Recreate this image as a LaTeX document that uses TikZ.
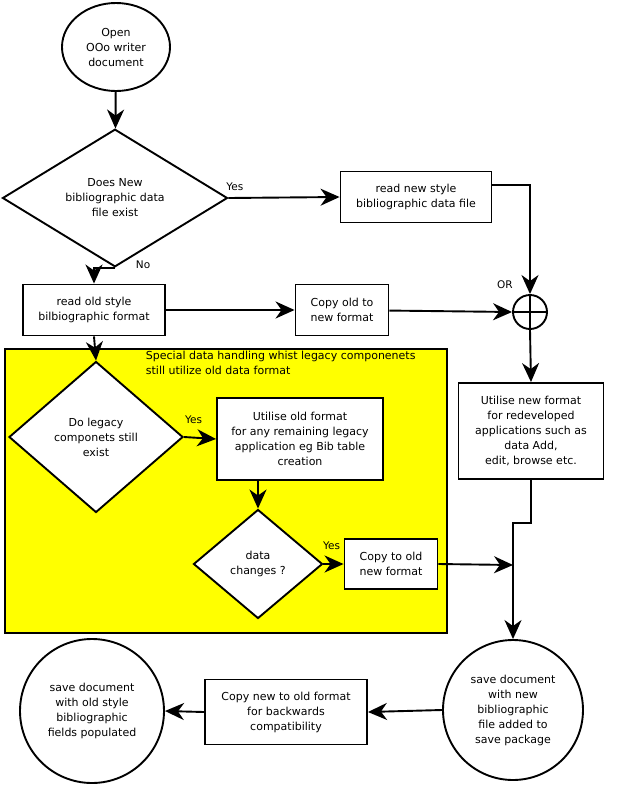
\documentclass[tikz,border=0pt]{standalone}
\usepackage{fontspec}
\setmainfont{DejaVu Sans}
\usetikzlibrary{arrows.meta,positioning,shapes.geometric,calc}
\definecolor{areayellow}{RGB}{255,255,0}

\begin{document}
\begin{tikzpicture}[x=1pt, y=-1pt, line width=1.9pt,
    >={Stealth[length=19pt,width=17pt,inset=6pt]},
    every node/.style={font=\fontsize{11}{15}\selectfont},
    procbox/.style={rectangle, draw, fill=white, align=center, inner sep=0pt},
    decision/.style={diamond, draw, fill=white, align=center, inner sep=0pt},
    endpoint/.style={circle, draw, fill=white, align=center, inner sep=0pt},
    lbl/.style={font=\fontsize{10.5}{12}\selectfont, inner sep=0pt}
  ]
    \useasboundingbox (0,0) rectangle (639,785);

    % legacy area
    \fill[areayellow] (5,349) rectangle (447,633);
    \draw (5,349) rectangle (447,633);
    \node[anchor=north west, align=left, inner sep=0pt] (legacy) at (145,350)
      {Special data handling whist legacy componenets\\ still utilize old data format};

    % top part
    \node[ellipse, draw, fill=white, align=center, inner sep=0pt, minimum width=108, minimum height=88] (open) at (116,47)
      {Open\\OOo writer\\document};
    \node[decision, minimum width=225, minimum height=130] (newexist) at (115,198)
      {Does New\\bibliographic data\\file exist};
    \node[procbox, minimum width=151, minimum height=51] (newread) at (416,197)
      {read new style\\bibliographic data file};
    \node[procbox, minimum width=142, minimum height=51] (oldread) at (94,310)
      {read old style\\bilbiographic format};
    \node[procbox, minimum width=93, minimum height=51] (copyold) at (342,310)
      {Copy old to\\new format};
    \node[endpoint, minimum size=34] (orsum) at (530,312) {};
    \draw (orsum.north) -- (orsum.south) (orsum.west) -- (orsum.east);
    \node[lbl] (orlbl) at (505,285) {OR};

    % right column
    \node[procbox, minimum width=145, minimum height=96] (newuse) at (531,431)
      {Utilise new format\\for redeveloped\\applications such as\\data Add,\\edit, browse etc.};
    \node[endpoint, minimum size=140] (savenew) at (513,710)
      {save document\\with new\\bibliographic\\file added to\\save package};
    \coordinate (join) at (513,565);

    % inside legacy area
    \node[decision, minimum width=174, minimum height=151] (legexist) at (96,437)
      {Do legacy\\componets still\\exist};
    \node[procbox, minimum width=166, minimum height=82] (oldapp) at (300,439)
      {Utilise old format\\for any remaining legacy\\application eg Bib table\\creation};
    \node[decision, minimum width=129, minimum height=109] (changes) at (258,564)
      {data\\changes ?};
    \node[procbox, minimum width=93, minimum height=50] (copytoold) at (391,564)
      {Copy to old\\new format};

    % bottom row
    \node[procbox, minimum width=162, minimum height=65] (copynew) at (286,712)
      {Copy new to old format\\for backwards\\compatibility};
    \node[endpoint, minimum size=144] (saveold) at (92,711)
      {save document\\with old style\\bibliographic\\fields populated};

    % connectors
    \draw[->] (open) -- (newexist);
    \draw[->] (newexist.east) -- node[lbl, pos=0, anchor=south west, xshift=-3pt, yshift=6pt] {Yes} (newread.west);
    \draw[->] (newexist.south) -| node[lbl, pos=0.0, right=20pt, yshift=3pt] {No} (oldread.north);
    \draw[->] ([yshift=12]newread.east) -| (orsum.north);
    \draw[->] (oldread) -- (copyold);
    \draw[->] (copyold) -- (orsum.west);
    \draw[->] (orsum.south) -- (newuse.north);
    \draw[->] (newuse.south) -- ++(0,43) -| (savenew.north);
    \draw[->] (copytoold.east) -- (join);
    \draw[->] (savenew.west) -- (copynew.east);
    \draw[->] (copynew.west) -- (saveold.east);
    \draw[->] (oldread.south) -- (legexist.north);
    \draw[->] (legexist.east) -- node[lbl, pos=0.3, above=13pt] {Yes} (oldapp.west);
    \draw[->] (changes.north |- oldapp.south) -- (changes.north);
    \draw[->] (changes.east) -- node[lbl, pos=0.4, above=13pt] {Yes} (copytoold.west);
  \end{tikzpicture}
\end{document}
